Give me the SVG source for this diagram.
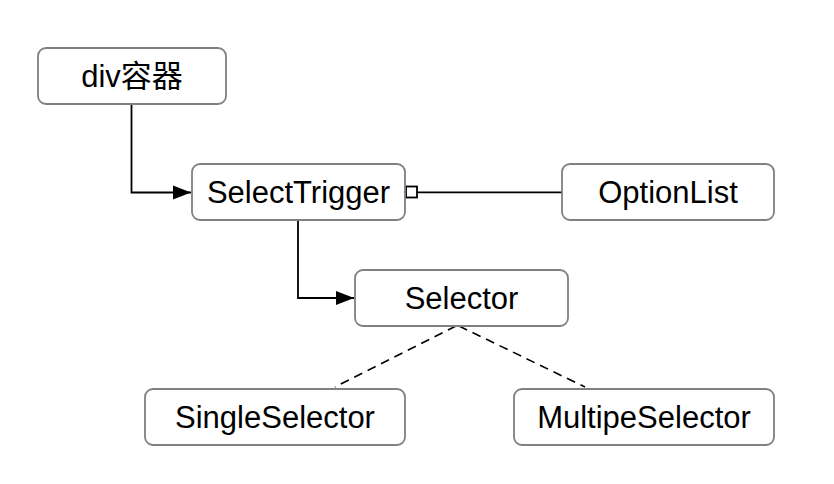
<svg xmlns="http://www.w3.org/2000/svg" width="834" height="484" viewBox="0 0 834 484">
<style>
.box{fill:#fff;stroke:#808080;stroke-width:1.8}
.lbl{font-family:"Liberation Sans","Noto Sans CJK SC",Arial,sans-serif;font-size:31px;fill:#000;text-anchor:middle}
.edge{fill:none;stroke:#000;stroke-width:1.8}
.dash{fill:none;stroke:#000;stroke-width:1.6;stroke-dasharray:9 6}
</style>
<defs>
<marker id="arrow" markerWidth="20" markerHeight="16" refX="19" refY="8" orient="auto" markerUnits="userSpaceOnUse">
<path d="M1,1 L19,8 L1,15 Z" fill="#000"/>
</marker>
</defs>
<rect width="834" height="484" fill="#fff"/>
<g id="connectors">
<path class="edge" d="M131.5,104 V192.5 H191" marker-end="url(#arrow)"/>
<path class="edge" d="M298,220 V298 H354" marker-end="url(#arrow)"/>
<rect x="406" y="186.5" width="11" height="11" fill="#fff" stroke="#000" stroke-width="1.8"/>
<path class="edge" d="M417,192.3 H562"/>
<path class="dash" d="M456,326 L335,387"/>
<path class="dash" d="M459,326 L585,387"/>
</g>
<g id="div-container"><rect class="box" x="38" y="48" width="188" height="56" rx="8"/><text class="lbl" x="132" y="87">div容器</text></g>
<g id="select-trigger"><rect class="box" x="192" y="164" width="213" height="56" rx="8"/><text class="lbl" x="298.5" y="203">SelectTrigger</text></g>
<g id="option-list"><rect class="box" x="562" y="164" width="212" height="56" rx="8"/><text class="lbl" x="668" y="203">OptionList</text></g>
<g id="selector"><rect class="box" x="355" y="270" width="213" height="56" rx="8"/><text class="lbl" x="461.5" y="309">Selector</text></g>
<g id="single-selector"><rect class="box" x="145" y="389" width="260" height="56" rx="8"/><text class="lbl" x="275" y="428">SingleSelector</text></g>
<g id="multipe-selector"><rect class="box" x="514" y="389" width="260" height="56" rx="8"/><text class="lbl" x="644" y="428">MultipeSelector</text></g>
</svg>
